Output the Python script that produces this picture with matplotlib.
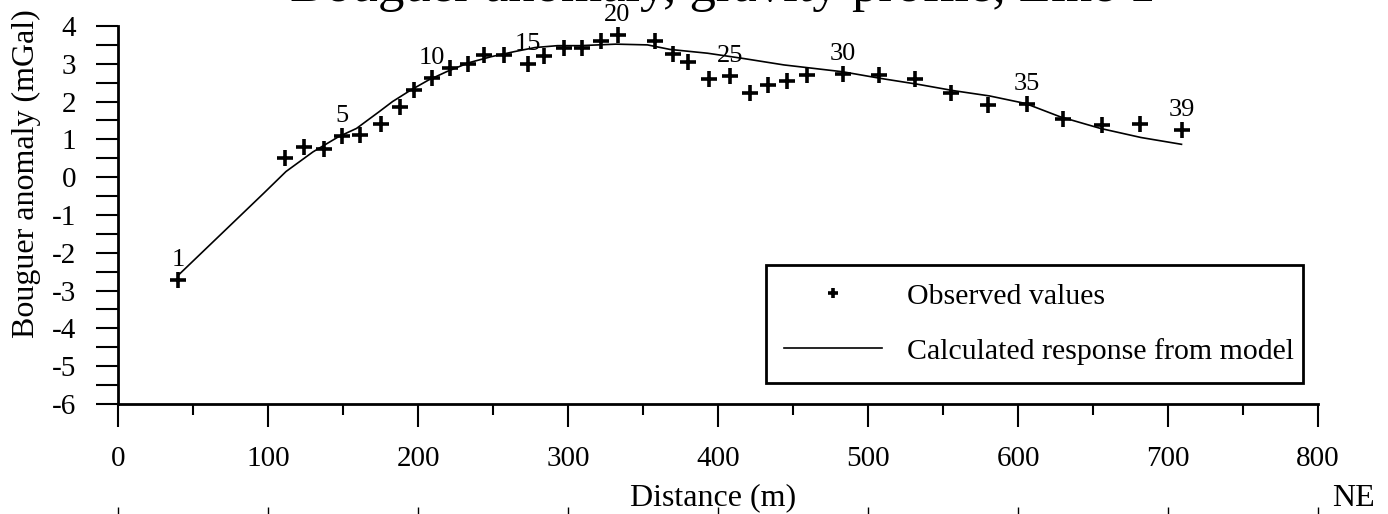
import matplotlib.pyplot as plt
from matplotlib.ticker import MultipleLocator

plt.rcParams['font.family'] = ['Liberation Serif', 'DejaVu Serif']
plt.rcParams['axes.unicode_minus'] = False

# Observed gravity stations (numbered 1..39)
station_dist = [40, 111, 124, 137, 149, 161, 175, 188, 197, 209, 221, 233, 244, 257,
                273, 284, 297, 309, 322, 333, 358, 370, 380, 394, 408, 421, 433, 446,
                459, 483, 507, 531, 555, 580, 606, 630, 656, 681, 709]
observed = [-2.71, 0.50, 0.80, 0.74, 1.09, 1.11, 1.42, 1.86, 2.32, 2.63, 2.88, 2.99,
            3.23, 3.23, 2.99, 3.21, 3.41, 3.41, 3.61, 3.76, 3.61, 3.25, 3.06, 2.61,
            2.68, 2.24, 2.44, 2.54, 2.70, 2.73, 2.70, 2.59, 2.22, 1.91, 1.93, 1.54,
            1.38, 1.40, 1.25]
labelled = [1, 5, 10, 15, 20, 25, 30, 35, 39]

# Calculated response from model
model_dist = [40, 97, 112, 130, 147, 159, 174, 183, 195, 207, 219, 234, 249, 264, 278,
              293, 308, 332, 353, 368, 393, 417, 444, 483, 509, 533, 557, 581, 605,
              628, 655, 682, 709]
model_vals = [-2.60, -0.43, 0.15, 0.67, 1.07, 1.29, 1.73, 2.00, 2.30, 2.57, 2.79, 3.03,
              3.19, 3.32, 3.43, 3.48, 3.48, 3.52, 3.50, 3.38, 3.28, 3.14, 2.97, 2.79,
              2.61, 2.46, 2.29, 2.15, 1.95, 1.60, 1.29, 1.05, 0.87]

fs = 21

fig = plt.figure(figsize=(13.88, 5.14), dpi=100)
ax = fig.add_axes([118 / 1388, 110 / 514, 1200 / 1388, 378 / 514])

ax.plot(model_dist, model_vals, color='black', lw=1.2, label='Calculated response from model')
ax.plot(station_dist, observed, linestyle='none', marker='+', color='black',
        markersize=11, markeredgewidth=2.6, label='Observed values')

for n in labelled:
    ax.annotate(str(n), (station_dist[n - 1], observed[n - 1]), xytext=(0, 20),
                textcoords='offset pixels', ha='center', va='center', fontsize=19)

ax.set_xlim(0, 800)
ax.set_ylim(-6, 4)
ax.spines['top'].set_visible(False)
ax.spines['right'].set_visible(False)
ax.spines['left'].set_linewidth(2)
ax.spines['bottom'].set_linewidth(2)

ax.xaxis.set_major_locator(MultipleLocator(100))
ax.xaxis.set_minor_locator(MultipleLocator(50))
ax.yaxis.set_major_locator(MultipleLocator(1))
ax.yaxis.set_minor_locator(MultipleLocator(0.5))
ax.tick_params(axis='both', which='both', direction='out', width=1.5, labelsize=fs)
ax.tick_params(axis='x', which='major', length=16.5, pad=14)
ax.tick_params(axis='x', which='minor', length=8)
ax.tick_params(axis='y', which='both', length=16, pad=14)

ax.set_xlabel('Distance (m)', fontsize=23)
ax.xaxis.set_label_coords(0.496, -0.21)
ax.set_ylabel('Bouguer anomaly (mGal)', fontsize=23)
ax.yaxis.set_label_coords(-0.064, 0.61)

handles, labels = ax.get_legend_handles_labels()
leg = ax.legend(handles[::-1], labels[::-1], loc='lower left',
                bbox_to_anchor=(0.54, 0.056, 0.4475, 0.318), mode='expand',
                fontsize=21.5, frameon=True, fancybox=False, edgecolor='black',
                framealpha=1, handlelength=3.3, handletextpad=0.83,
                labelspacing=0.95, borderpad=0.6, markerscale=0.7, borderaxespad=0)
leg.get_frame().set_linewidth(2)

fig.text(1375 / 1388, 16 / 514, 'NE', ha='right', va='center', fontsize=23)
fig.text(290 / 1388, 1 - 1 / 514, 'Bouguer anomaly, gravity profile, Line 1',
         ha='left', va='baseline', fontsize=38)

# ticks of the (cropped) panel below
ax2 = fig.add_axes([118 / 1388, -0.2, 1200 / 1388, 0.2 + 7 / 514])
ax2.set_xlim(0, 800)
ax2.xaxis.set_major_locator(MultipleLocator(100))
ax2.set_yticks([])
for s in ax2.spines.values():
    s.set_visible(False)
ax2.tick_params(axis='x', bottom=False, top=True, labelbottom=False, direction='in',
                length=7, width=1)
ax2.patch.set_visible(False)

fig.savefig('out.png', dpi=100)
